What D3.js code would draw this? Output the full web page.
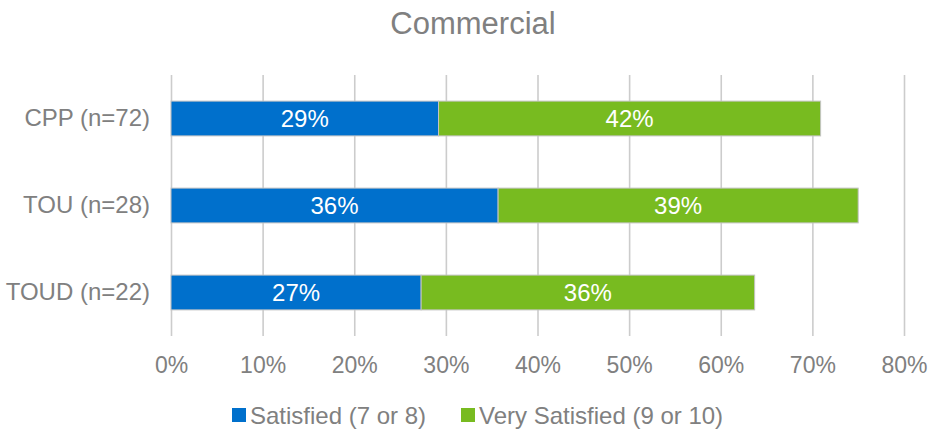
<!DOCTYPE html>
<html>
<head>
<meta charset="utf-8">
<script src="https://cdn.jsdelivr.net/npm/d3@7"></script>
<style>
  html, body { margin: 0; padding: 0; background: #ffffff; }
  svg { display: block; font-family: "Liberation Sans", Arial, sans-serif; }
</style>
</head>
<body>
<svg id="chart" width="929" height="433"></svg>
<script>
// Survey groups and the share of respondents in each satisfaction band
const categories = ["CPP (n=72)", "TOU (n=28)", "TOUD (n=22)"];
const satisfied = [0.292, 0.357, 0.273];       // Satisfied (7 or 8)
const verySatisfied = [0.417, 0.393, 0.364];   // Very Satisfied (9 or 10)
const seriesNames = ["Satisfied (7 or 8)", "Very Satisfied (9 or 10)"];
const tickValues = [0, 0.1, 0.2, 0.3, 0.4, 0.5, 0.6, 0.7, 0.8];
const titleText = "Commercial";

const colors = ["#0070CC", "#78BB20"];
const textGray = "#808080";

const svg = d3.select("#chart");
const plot = { left: 171, right: 904, top: 75, bottom: 336 };

const x = d3.scaleLinear().domain([0, 0.8]).range([plot.left, plot.right]);
const y = d3.scaleBand().domain(categories)
  .range([plot.top, plot.bottom])
  .paddingInner(0.6).paddingOuter(0.3);

// Title
svg.append("text")
  .attr("x", 473).attr("y", 34)
  .attr("text-anchor", "middle")
  .attr("font-size", 31)
  .attr("fill", textGray)
  .text(titleText);

// Vertical gridlines and percentage tick labels
const xAxis = d3.axisBottom(x)
  .tickValues(tickValues)
  .tickFormat(d3.format(".0%"))
  .tickSizeInner(-(plot.bottom - plot.top))
  .tickSizeOuter(0)
  .tickPadding(21);

const gx = svg.append("g")
  .attr("transform", `translate(0,${plot.bottom})`)
  .call(xAxis);
gx.select(".domain").remove();
gx.selectAll(".tick line")
  .attr("stroke", "#cccccc")
  .attr("stroke-width", 1.6);
gx.selectAll(".tick text")
  .attr("font-size", 23)
  .attr("font-family", "\"Liberation Sans\", Arial, sans-serif")
  .attr("fill", textGray);

// Category labels
const yAxis = d3.axisLeft(y).tickSize(0).tickPadding(21);
const gy = svg.append("g")
  .attr("transform", `translate(${plot.left},0)`)
  .call(yAxis);
gy.select(".domain").remove();
gy.selectAll(".tick text")
  .attr("font-size", 24)
  .attr("font-family", "\"Liberation Sans\", Arial, sans-serif")
  .attr("fill", textGray);

// Stacked bars
const rows = categories.map((c, i) => ({ category: c, s: satisfied[i], v: verySatisfied[i] }));
const stacked = d3.stack().keys(["s", "v"])(rows);

const layers = svg.append("g").selectAll("g")
  .data(stacked)
  .join("g")
  .attr("fill", (d, i) => colors[i]);

layers.selectAll("rect")
  .data(d => d)
  .join("rect")
  .attr("x", d => x(d[0]))
  .attr("y", d => y(d.data.category))
  .attr("width", d => x(d[1]) - x(d[0]))
  .attr("height", y.bandwidth())
  .attr("stroke", "#c4c4c4")
  .attr("stroke-width", 1);

// Value labels centred in each segment
const fmt = d3.format(".0%");
layers.selectAll("text")
  .data(d => d)
  .join("text")
  .attr("x", d => (x(d[0]) + x(d[1])) / 2)
  .attr("y", d => y(d.data.category) + y.bandwidth() / 2)
  .attr("dy", "0.36em")
  .attr("text-anchor", "middle")
  .attr("font-size", 24)
  .attr("fill", "#ffffff")
  .text(d => fmt(d[1] - d[0]));

// Legend
const legendItems = [
  { name: seriesNames[0], color: colors[0], x: 232 },
  { name: seriesNames[1], color: colors[1], x: 461 }
];
const legend = svg.append("g");
const li = legend.selectAll("g")
  .data(legendItems)
  .join("g")
  .attr("transform", d => `translate(${d.x},408)`);
li.append("rect")
  .attr("width", 14).attr("height", 14)
  .attr("fill", d => d.color);
li.append("text")
  .attr("x", 18).attr("y", 16)
  .attr("font-size", 24)
  .attr("fill", textGray)
  .text(d => d.name);
</script>
</body>
</html>
